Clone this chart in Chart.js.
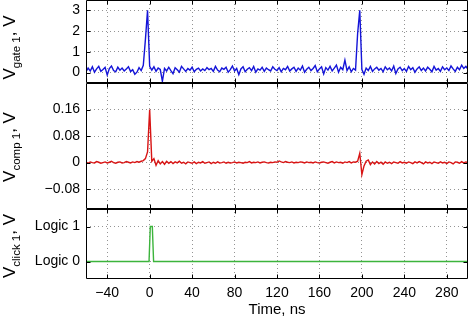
<!DOCTYPE html>
<html>
<head>
<meta charset="utf-8">
<script src="https://cdn.jsdelivr.net/npm/chart.js@4"></script>
<style>
  html, body { margin: 0; padding: 0; background: #fff; }
  #wrap { width: 469px; height: 319px; }
</style>
</head>
<body>
<div id="wrap"><canvas id="chart" width="469" height="319"></canvas></div>
<script>
// sample times (ns) for the gate and comparator traces
const times = [
  -60, -58, -56, -54, -52, -50, -48, -46, -44, -42, -40, -38, -36, -34, -32, -30, -28, -26, -24, -22,
  -20, -18, -16, -14, -12, -10, -8, -6, -4, -2, 0, 2, 4, 6, 8, 10, 12, 14, 16, 18,
  20, 22, 24, 26, 28, 30, 32, 34, 36, 38, 40, 42, 44, 46, 48, 50, 52, 54, 56, 58,
  60, 62, 64, 66, 68, 70, 72, 74, 76, 78, 80, 82, 84, 86, 88, 90, 92, 94, 96, 98,
  100, 102, 104, 106, 108, 110, 112, 114, 116, 118, 120, 122, 124, 126, 128, 130, 132, 134, 136, 138,
  140, 142, 144, 146, 148, 150, 152, 154, 156, 158, 160, 162, 164, 166, 168, 170, 172, 174, 176, 178,
  180, 182, 184, 186, 188, 190, 192, 194, 196, 198, 200, 202, 204, 206, 208, 210, 212, 214, 216, 218,
  220, 222, 224, 226, 228, 230, 232, 234, 236, 238, 240, 242, 244, 246, 248, 250, 252, 254, 256, 258,
  260, 262, 264, 266, 268, 270, 272, 274, 276, 278, 280, 282, 284, 286, 288, 290, 292, 294, 296, 298,
  300
];

// V gate 1, V
const gate = [
  0.05, 0.22, 0.08, 0.28, 0.02, 0.18, 0.30, 0.06, 0.15, 0.25,
  -0.12, 0.20, 0.32, 0.10, 0.04, 0.26, 0.12, 0.22, 0.08, 0.18,
  0.28, 0.05, 0.14, -0.08, 0.02, 0.24, 0.10, 0.35, 1.60, 3.00,
  0.30, 0.12, 0.28, 0.06, 0.22, 0.15, -0.42, 0.20, 0.08, 0.26,
  0.10, -0.05, 0.24, 0.14, 0.02, 0.30, 0.18, 0.06, 0.20, 0.12,
  0.26, 0.04, 0.16, 0.22, 0.08, 0.18, 0.10, 0.24, 0.14, 0.20,
  0.06, 0.30, 0.12, 0.04, 0.22, 0.16, 0.26, 0.02, 0.14, 0.32,
  0.08, 0.20, -0.10, 0.18, 0.28, 0.04, 0.16, 0.24, 0.10, 0.30,
  0.02, 0.18, 0.12, 0.26, 0.06, 0.22, 0.14, 0.08, 0.28, 0.16,
  0.10, 0.24, 0.04, 0.20, 0.14, 0.30, 0.08, 0.18, 0.26, 0.06,
  0.22, 0.12, 0.32, 0.02, 0.16, 0.26, 0.10, 0.20, 0.34, 0.04,
  0.18, 0.28, -0.06, 0.24, 0.12, 0.30, 0.08, 0.22, 0.36, 0.02,
  0.26, 0.14, 0.60, 0.10, 0.28, 0.04, 0.20, 0.12, 1.90, 3.00,
  0.15, -0.08, 0.22, 0.10, 0.30, 0.06, 0.18, 0.26, 0.12, 0.20,
  0.04, 0.28, 0.14, 0.22, 0.08, 0.32, -0.04, 0.18, 0.26, 0.10,
  0.20, 0.06, 0.30, 0.14, 0.24, 0.02, 0.18, 0.28, 0.10, 0.22,
  0.08, 0.26, 0.16, 0.04, 0.30, 0.12, 0.20, 0.06, 0.28, 0.14,
  0.22, 0.10, 0.32, 0.18, 0.06, 0.26, 0.14, 0.36, 0.20, 0.30,
  0.16
];

// V comp 1, V
const comp = [
  0.001, -0.002, 0.002, 0.000, -0.001, 0.003, 0.001, -0.002, 0.000, 0.002,
  -0.001, 0.001, 0.004, 0.000, -0.002, 0.001, 0.002, -0.001, 0.000, 0.003,
  0.001, -0.001, 0.002, 0.000, 0.003, 0.001, 0.004, 0.006, 0.012, 0.032,
  0.160, 0.004, 0.012, -0.008, 0.006, -0.004, 0.003, -0.005, 0.004, -0.002,
  0.003, -0.003, 0.002, -0.001, 0.004, -0.002, 0.001, -0.004, 0.002, 0.000,
  -0.002, 0.002, -0.003, 0.001, -0.001, 0.003, -0.002, 0.000, 0.002, -0.003,
  0.001, -0.002, 0.002, -0.001, 0.000, 0.002, -0.002, 0.001, -0.001, 0.000,
  0.002, -0.001, 0.001, 0.000, -0.002, 0.001, 0.000, 0.003, -0.001, 0.001,
  0.000, 0.002, -0.001, 0.001, 0.002, 0.000, -0.001, 0.001, 0.000, 0.002,
  0.001, 0.005, 0.002, 0.000, 0.003, 0.001, 0.000, 0.002, -0.001, 0.001,
  0.000, 0.002, 0.001, -0.001, 0.002, 0.000, 0.001, -0.001, 0.002, 0.000,
  -0.001, 0.001, 0.002, 0.000, -0.002, 0.001, 0.003, -0.001, 0.002, 0.000,
  0.001, -0.002, 0.002, 0.000, 0.003, -0.001, 0.002, 0.001, 0.004, 0.028,
  -0.036, -0.010, 0.004, 0.008, -0.006, 0.002, -0.004, 0.003, -0.003, 0.001,
  -0.005, 0.002, -0.002, 0.001, -0.003, 0.002, 0.000, -0.002, 0.003, -0.001,
  0.001, -0.002, 0.002, 0.000, -0.003, 0.002, -0.001, 0.003, 0.000, -0.004,
  0.002, -0.001, 0.001, -0.003, 0.002, 0.000, -0.002, 0.002, -0.001, 0.001,
  -0.003, 0.002, 0.000, -0.004, 0.002, 0.001, -0.002, 0.003, -0.001, 0.002,
  0.000
];

// V click 1 (logic level)
const clickTimes = [-60, -0.6, 0.6, 2.5, 3.7, 300];
const click = [0, 0, 1, 1, 0, 0];

// tick labels
const xTicks = [-40, 0, 40, 80, 120, 160, 200, 240, 280];
const gateTicks = [0, 1, 2, 3];
const compTicks = [-0.08, 0, 0.08, 0.16];
const clickTicks = [0, 1];
const clickLabels = ['Logic 0', 'Logic 1'];

const FONT = '"Liberation Sans", Arial, sans-serif';
Chart.defaults.font.family = FONT;
Chart.defaults.color = '#000';

function minus(v) {
  return v < 0 ? '\u2212' + String(Math.abs(v)) : String(v);
}

const gridStyle = { color: 'rgba(0,0,0,0.42)', lineWidth: 1, drawTicks: false };
const dotted = { display: false, dash: [1, 3] };

function yAxis(min, max, weight, ticks, fmt) {
  return {
    type: 'linear', position: 'left', stack: 'v', stackWeight: weight,
    min: min, max: max,
    grid: gridStyle, border: dotted,
    ticks: { font: { size: 14 }, padding: 6, autoSkip: false, callback: fmt },
    afterBuildTicks: s => { s.ticks = ticks.map(v => ({ value: v })); },
    afterFit: s => { s.width = 86; s.paddingTop = 0; s.paddingBottom = 0; }
  };
}

// frame, inward ticks and subscripted axis titles
const framePlugin = {
  id: 'framePlugin',
  afterDraw(chart) {
    const { ctx, chartArea: a, scales } = chart;
    const x = scales.x;
    const L = Math.round(a.left) + 0.5, R = Math.round(a.right) - 0.5;
    ctx.save();
    ctx.strokeStyle = '#000';
    ctx.lineWidth = 1;
    const panels = [['yGate', 'gate 1', 6], ['yComp', 'comp 1', 1], ['yClick', 'click 1', 2]];
    for (const [id, sub, off] of panels) {
      const s = scales[id];
      const T = Math.round(s.top) + 0.5, B = Math.round(s.bottom) - 0.5;
      ctx.beginPath();
      ctx.rect(L, T, R - L, B - T);
      for (const t of xTicks) {
        const px = Math.round(x.getPixelForValue(t)) + 0.5;
        ctx.moveTo(px, T); ctx.lineTo(px, T + 4);
        ctx.moveTo(px, B); ctx.lineTo(px, B - 4);
      }
      for (const tk of s.ticks) {
        const py = Math.round(s.getPixelForValue(tk.value)) + 0.5;
        ctx.moveTo(L, py); ctx.lineTo(L + 4, py);
        ctx.moveTo(R, py); ctx.lineTo(R - 4, py);
      }
      ctx.stroke();
      drawTitle(ctx, sub, 15, (s.top + s.bottom) / 2 + off);
    }
    ctx.restore();
  }
};

function drawTitle(ctx, sub, xBase, yCenter) {
  const big = '17px ' + FONT, small = '11.5px ' + FONT;
  ctx.font = big;
  const w1 = ctx.measureText('V').width;
  const w3 = ctx.measureText(', V').width;
  ctx.font = small;
  const w2 = ctx.measureText(sub).width;
  ctx.save();
  ctx.translate(xBase, yCenter);
  ctx.rotate(-Math.PI / 2);
  ctx.fillStyle = '#000';
  ctx.textAlign = 'left';
  ctx.textBaseline = 'alphabetic';
  let p = -(w1 + w2 + w3) / 2;
  ctx.font = big; ctx.fillText('V', p, 0); p += w1;
  ctx.font = small; ctx.fillText(sub, p, 5); p += w2;
  ctx.font = big; ctx.fillText(', V', p, 0);
  ctx.restore();
}

const line = { pointRadius: 0, borderWidth: 1.4, tension: 0, fill: false };

new Chart(document.getElementById('chart'), {
  type: 'line',
  data: {
    datasets: [
      Object.assign({ label: 'gate', data: times.map((t, i) => ({ x: t, y: gate[i] })), borderColor: '#1414d8', yAxisID: 'yGate' }, line),
      Object.assign({ label: 'comp', data: times.map((t, i) => ({ x: t, y: comp[i] })), borderColor: '#d81414', yAxisID: 'yComp' }, line),
      Object.assign({ label: 'click', data: clickTimes.map((t, i) => ({ x: t, y: click[i] })), borderColor: '#3cb43c', yAxisID: 'yClick' }, line)
    ]
  },
  options: {
    responsive: false,
    devicePixelRatio: 1,
    animation: false,
    layout: { padding: { top: 0, right: 1, bottom: 0, left: 0 } },
    plugins: { legend: { display: false }, tooltip: { enabled: false } },
    scales: {
      x: {
        type: 'linear', min: -60, max: 300,
        grid: gridStyle, border: dotted,
        ticks: { font: { size: 14 }, padding: 6, maxRotation: 0, autoSkip: false, callback: v => minus(v) },
        title: { display: true, text: 'Time, ns', font: { size: 15 }, padding: { top: 0, bottom: 0 } },
        afterBuildTicks: s => { s.ticks = xTicks.map(v => ({ value: v })); },
        afterFit: s => { s.height = 40; s.paddingLeft = 0; s.paddingRight = 0; }
      },
      yClick: yAxis(-0.5, 1.5, 70, clickTicks, v => clickLabels[clickTicks.indexOf(v)]),
      yComp: yAxis(-0.14, 0.24, 126, compTicks, v => minus(v)),
      yGate: yAxis(-0.5, 3.5, 83, gateTicks, v => minus(v))
    }
  },
  plugins: [framePlugin]
});
</script>
</body>
</html>
